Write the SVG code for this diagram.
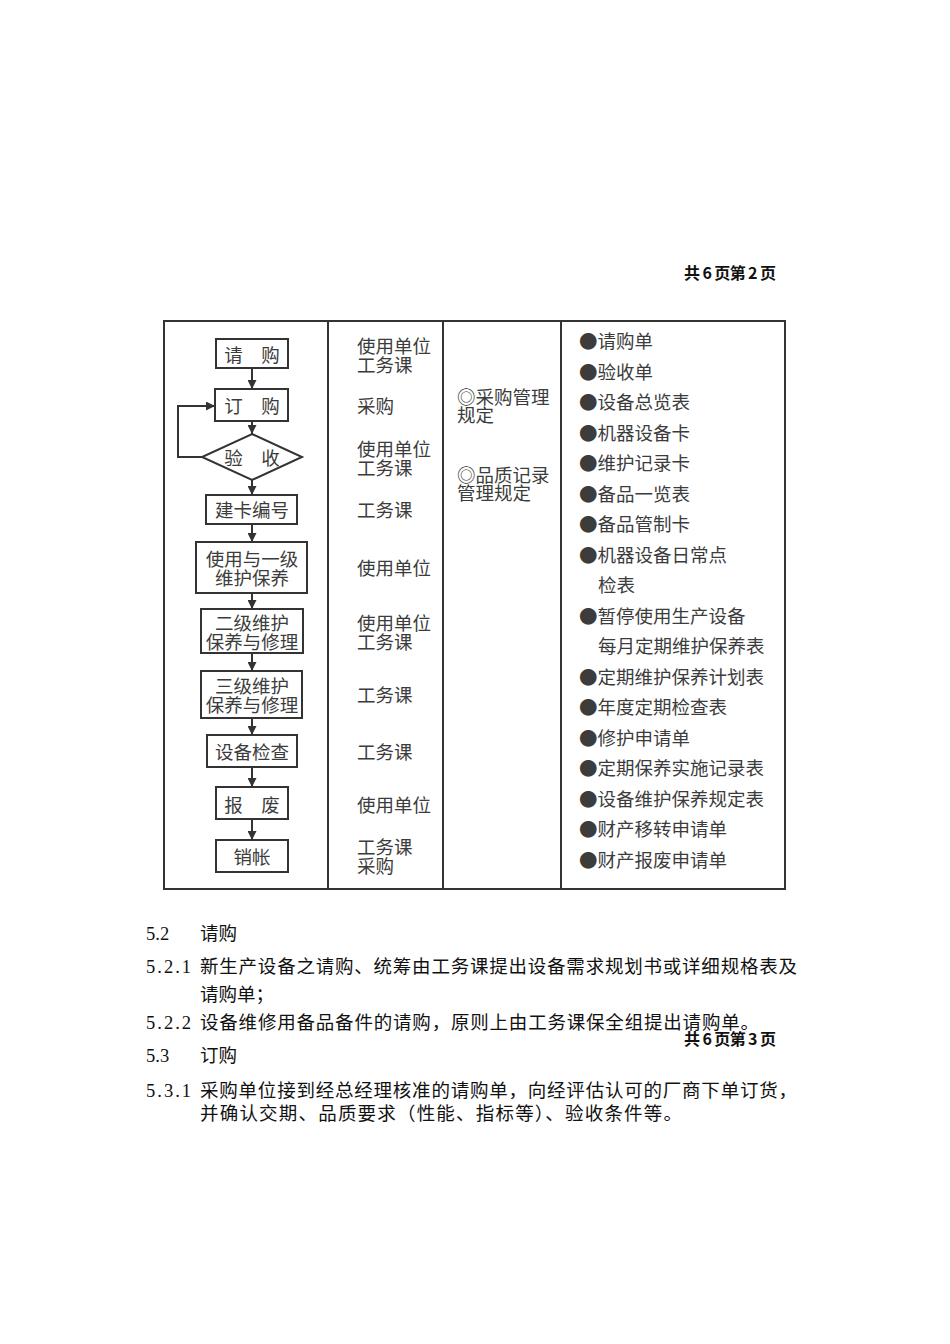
<svg xmlns="http://www.w3.org/2000/svg" width="950" height="1344" viewBox="0 0 950 1344">
<style>
.tbl{fill:none;stroke:#333;stroke-width:2}
.box{fill:#fff;stroke:#333;stroke-width:2}
.con{fill:none;stroke:#333;stroke-width:2}
.t{font-family:"Noto Sans CJK SC","Noto Sans",sans-serif;font-size:18.5px;fill:#3c3c3c;dominant-baseline:central}
.c{text-anchor:middle}
.body{font-family:"Liberation Serif","Noto Sans CJK SC",serif;font-size:18.5px;fill:#111}
.hdr{font-family:"Noto Sans CJK SC","Liberation Sans",sans-serif;font-size:16px;font-weight:bold;fill:#111}
</style>
<defs>
<marker id="ah" viewBox="0 0 10 10" refX="10" refY="5" markerWidth="9" markerHeight="9" markerUnits="userSpaceOnUse" orient="auto">
<path d="M0,0 L10,5 L0,10 z" fill="#333"/>
</marker>
</defs>
<rect width="950" height="1344" fill="#fff"/>

<text class="hdr" x="684" y="279" textLength="92">共 6 页第 2 页</text>

<g id="table">
<rect class="tbl" x="164" y="321" width="621" height="568"/>
<line class="tbl" x1="328" y1="321" x2="328" y2="889"/>
<line class="tbl" x1="443" y1="321" x2="443" y2="889"/>
<line class="tbl" x1="561" y1="321" x2="561" y2="889"/>
</g>

<g id="connectors">
<line class="con" x1="252" y1="368" x2="252" y2="389" marker-end="url(#ah)"/>
<line class="con" x1="252" y1="421" x2="252" y2="434" marker-end="url(#ah)"/>
<polyline class="con" points="202,457 178,457 178,406 215,406" marker-end="url(#ah)"/>
<line class="con" x1="252" y1="480" x2="252" y2="495" marker-end="url(#ah)"/>
<line class="con" x1="252" y1="524" x2="252" y2="542" marker-end="url(#ah)"/>
<line class="con" x1="252" y1="593" x2="252" y2="609" marker-end="url(#ah)"/>
<line class="con" x1="252" y1="653" x2="252" y2="671" marker-end="url(#ah)"/>
<line class="con" x1="252" y1="718" x2="252" y2="735" marker-end="url(#ah)"/>
<line class="con" x1="252" y1="767" x2="252" y2="787" marker-end="url(#ah)"/>
<line class="con" x1="252" y1="819" x2="252" y2="840" marker-end="url(#ah)"/>
</g>

<g id="n-qinggou"><rect class="box" x="216" y="339" width="72" height="29"/><text class="t c" x="252" y="354">请　购</text></g>
<g id="n-dinggou"><rect class="box" x="215" y="389" width="73" height="32"/><text class="t c" x="252" y="405">订　购</text></g>
<g id="n-yanshou"><polygon class="box" points="252,434 302,457 252,480 202,457"/><text class="t c" x="252" y="457">验　收</text></g>
<g id="n-jianka"><rect class="box" x="206" y="495" width="91" height="29"/><text class="t c" x="252" y="509">建卡编号</text></g>
<g id="n-yiji"><rect class="box" x="196" y="542" width="111" height="51"/><text class="t c" x="252" y="558">使用与一级</text><text class="t c" x="252" y="577">维护保养</text></g>
<g id="n-erji"><rect class="box" x="201" y="609" width="102" height="44"/><text class="t c" x="252" y="622">二级维护</text><text class="t c" x="252" y="641">保养与修理</text></g>
<g id="n-sanji"><rect class="box" x="201" y="671" width="101" height="47"/><text class="t c" x="252" y="685">三级维护</text><text class="t c" x="252" y="704">保养与修理</text></g>
<g id="n-jiancha"><rect class="box" x="207" y="735" width="90" height="32"/><text class="t c" x="252" y="751">设备检查</text></g>
<g id="n-baofei"><rect class="box" x="216" y="787" width="72" height="32"/><text class="t c" x="252" y="804">报　废</text></g>
<g id="n-xiaozhang"><rect class="box" x="216" y="840" width="72" height="32"/><text class="t c" x="252" y="856">销帐</text></g>

<g id="col-dept">
<text class="t" x="357" y="345">使用单位</text><text class="t" x="357" y="364">工务课</text>
<text class="t" x="357" y="405">采购</text>
<text class="t" x="357" y="448">使用单位</text><text class="t" x="357" y="467">工务课</text>
<text class="t" x="357" y="509">工务课</text>
<text class="t" x="357" y="567">使用单位</text>
<text class="t" x="357" y="622">使用单位</text><text class="t" x="357" y="641">工务课</text>
<text class="t" x="357" y="694">工务课</text>
<text class="t" x="357" y="751">工务课</text>
<text class="t" x="357" y="804">使用单位</text>
<text class="t" x="357" y="846">工务课</text><text class="t" x="357" y="865">采购</text>
</g>

<g id="col-rules">
<text class="t" x="457" y="396">◎采购管理</text><text class="t" x="457" y="414">规定</text>
<text class="t" x="457" y="474">◎品质记录</text><text class="t" x="457" y="492">管理规定</text>
</g>

<g id="col-forms">
<text class="t" x="579" y="340">●请购单</text>
<text class="t" x="579" y="370.5">●验收单</text>
<text class="t" x="579" y="401">●设备总览表</text>
<text class="t" x="579" y="431.5">●机器设备卡</text>
<text class="t" x="579" y="462">●维护记录卡</text>
<text class="t" x="579" y="492.5">●备品一览表</text>
<text class="t" x="579" y="523">●备品管制卡</text>
<text class="t" x="579" y="553.5">●机器设备日常点</text>
<text class="t" x="598" y="584">检表</text>
<text class="t" x="579" y="614.5">●暂停使用生产设备</text>
<text class="t" x="598" y="645">每月定期维护保养表</text>
<text class="t" x="579" y="675.5">●定期维护保养计划表</text>
<text class="t" x="579" y="706">●年度定期检查表</text>
<text class="t" x="579" y="736.5">●修护申请单</text>
<text class="t" x="579" y="767">●定期保养实施记录表</text>
<text class="t" x="579" y="797.5">●设备维护保养规定表</text>
<text class="t" x="579" y="828">●财产移转申请单</text>
<text class="t" x="579" y="858.5">●财产报废申请单</text>
</g>

<g id="body-text">
<text class="body" x="146" y="940">5.2</text><text class="body" x="200" y="940">请购</text>
<text class="body" x="146" y="973" textLength="45">5.2.1</text><text class="body" x="200" y="973" textLength="597">新生产设备之请购、统筹由工务课提出设备需求规划书或详细规格表及</text>
<text class="body" x="200" y="1001">请购单；</text>
<text class="body" x="146" y="1029" textLength="45">5.2.2</text><text class="body" x="200" y="1029" textLength="559">设备维修用备品备件的请购，原则上由工务课保全组提出请购单。</text>
<text class="hdr" x="684" y="1045" textLength="92">共 6 页第 3 页</text>
<text class="body" x="146" y="1062">5.3</text><text class="body" x="200" y="1062">订购</text>
<text class="body" x="146" y="1097" textLength="45">5.3.1</text><text class="body" x="200" y="1097" textLength="597">采购单位接到经总经理核准的请购单，向经评估认可的厂商下单订货，</text>
<text class="body" x="200" y="1120" textLength="482">并确认交期、品质要求（性能、指标等）、验收条件等。</text>
</g>
</svg>
